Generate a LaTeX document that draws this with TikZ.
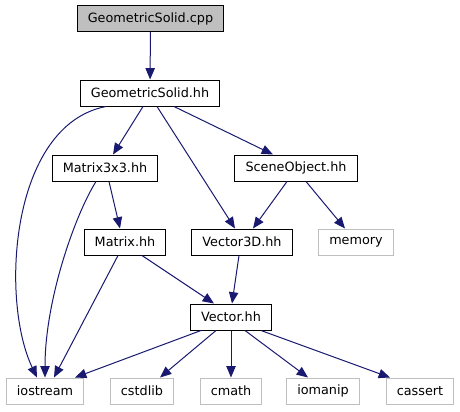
\documentclass[tikz,border=0pt]{standalone}
\usepackage{fontspec}
\setmainfont{DejaVu Sans}
\usetikzlibrary{positioning,arrows.meta}
\definecolor{edgeblue}{HTML}{191970}
\definecolor{grey75}{HTML}{BFBFBF}

\begin{document}
\begin{tikzpicture}[x=0.75pt, y=-0.75pt,
    FN/.style={rectangle, draw=black, fill=white, line width=0.75pt,
      font=\fontsize{9.6}{11}\selectfont, align=center,
      minimum height=19.5pt, inner xsep=8pt, inner ysep=2pt},
    SN/.style={FN, draw=grey75},
    RN/.style={FN, fill=grey75},
    arr/.style={-{Triangle[length=8.5pt,width=7pt]}, line width=0.75pt, color=edgeblue}
  ]
    \useasboundingbox (0,0) rectangle (460,411);

    %% Quelle und Header (oben)
    \node[RN] (gsc) at (150.5,18.5) {GeometricSolid.cpp};
    \node[FN] (gsh) at (150,93) {GeometricSolid.hh};

    %% zweite Ebene
    \node[FN] (m33) at (105,168) {Matrix3x3.hh};
    \node[FN] (sco) at (296,168) {SceneObject.hh};

    %% dritte Ebene
    \node[FN] (mat) at (125,242) {Matrix.hh};
    \node[FN] (v3d) at (242,242) {Vector3D.hh};
    \node[SN] (mem) at (356,242) {memory};

    %% Vector.hh
    \node[FN] (vec) at (231,317) {Vector.hh};

    %% Systemheader (unten)
    \node[SN] (ios) at (45,391) {iostream};
    \node[SN] (csl) at (142,391) {cstdlib};
    \node[SN] (cma) at (231,391) {cmath};
    \node[SN] (iom) at (323,391) {iomanip};
    \node[SN] (cas) at (420,391) {cassert};

    %% Arrows
    \draw[arr] (gsc) -- (gsh);
    \draw[arr] ([xshift=-33pt]gsh.south) .. controls (10,125) and (0,300) .. ([xshift=-6pt]ios.north);
    \draw[arr] ([xshift=-5.25pt]gsh.south) -- ([xshift=6pt]m33.north);
    \draw[arr] ([xshift=5.25pt]gsh.south)  -- ([xshift=-5.25pt]v3d.north);
    \draw[arr] ([xshift=18pt]gsh.south)    -- ([xshift=-17.25pt]sco.north);

    \draw[arr] ([xshift=-6.75pt]m33.south) .. controls (75,215) and (45,300) .. (ios.north);
    \draw[arr] ([xshift=3pt]m33.south)     -- ([xshift=-3.75pt]mat.north);

    \draw[arr] ([xshift=-6.75pt]sco.south) -- ([xshift=8.25pt]v3d.north);
    \draw[arr] ([xshift=7.5pt]sco.south)   -- ([xshift=-8.25pt]mem.north);

    \draw[arr] ([xshift=-5.25pt]mat.south) -- ([xshift=6.75pt]ios.north);
    \draw[arr] ([xshift=12.75pt]mat.south) -- ([xshift=-12.75pt]vec.north);
    \draw[arr] ([xshift=-2.25pt]v3d.south) -- ([xshift=0.75pt]vec.north);

    \draw[arr] ([xshift=-22.5pt]vec.south)  -- ([xshift=22.5pt]ios.north);
    \draw[arr] ([xshift=-11.25pt]vec.south) -- ([xshift=13.5pt]csl.north);
    \draw[arr] (vec.south) -- (cma.north);
    \draw[arr] ([xshift=10.5pt]vec.south)   -- ([xshift=-11.25pt]iom.north);
    \draw[arr] ([xshift=22.5pt]vec.south)   -- ([xshift=-22.5pt]cas.north);
  \end{tikzpicture}
\end{document}
